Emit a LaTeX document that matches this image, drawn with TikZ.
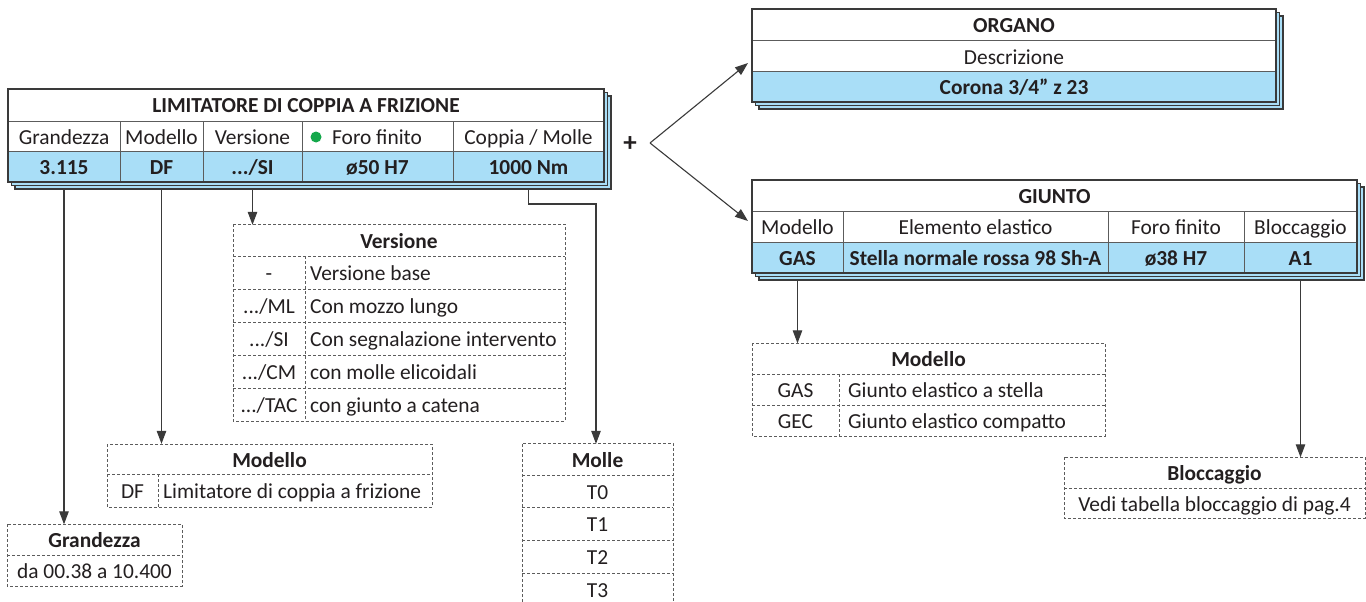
\documentclass[tikz,border=0pt]{standalone}
\usepackage{fontspec}
\setmainfont{Carlito}
\usetikzlibrary{arrows.meta,backgrounds}
\definecolor{cellblue}{HTML}{A9DEF7}
\definecolor{framec}{HTML}{3A3A3A}
\definecolor{gridc}{HTML}{5C5C5C}
\definecolor{txtc}{HTML}{231F20}
\definecolor{dotgreen}{HTML}{14A84B}
\begin{document}
\begin{tikzpicture}[x=1pt,y=-1pt,
  every node/.style={text=txtc, inner sep=0pt, text height=16pt, text depth=0pt,
     font=\fontsize{21.4}{25}\selectfont},
  bf/.style={font=\fontsize{21.4}{25}\selectfont\bfseries},
  cellbox/.style={minimum width=#1, minimum height=30pt},
  shadowbox/.style={draw=framec, fill=cellblue, line width=1.1pt},
  outerframe/.style={draw=framec, line width=1.3pt},
  innergrid/.style={draw=gridc, line width=1pt},
  dgrid/.style={draw=gridc, line width=1pt, dash pattern=on 3pt off 2pt},
  conn/.style={draw=framec, line width=1.1pt, -{Triangle[length=13pt,width=9.5pt]}},
]
\useasboundingbox (0,0) rectangle (1366,602);
\begin{pgfonlayer}{background}
\fill[white] (0,0) rectangle (1366,602);
\end{pgfonlayer}

% ================= LIMITATORE table =================
\foreach \d in {7,3.5} \draw[shadowbox] (8+\d,89+\d) rectangle (604+\d,182+\d);
\fill[white] (8,89) rectangle (604,151.5);
\fill[cellblue] (8,151.5) rectangle (604,182);
\draw[innergrid] (8,121) -- (604,121) (8,151.5) -- (604,151.5);
\foreach \x in {120,203,302,453} \draw[innergrid] (\x,121) -- (\x,182);
\draw[outerframe] (8,89) rectangle (604,182);

\node[bf, cellbox=596pt] (lh) at (306,105) {LIMITATORE DI COPPIA A FRIZIONE};
\node[cellbox=112pt] (ll1) at (64,136.25) {Grandezza};
\node[cellbox=83pt] (ll2) at (161.5,136.25) {Modello};
\node[cellbox=99pt] (ll3) at (252.5,136.25) {Versione};
\fill[dotgreen] (316,137) circle (5.5pt);
\node[anchor=west] (ll4) at (332,136.25) {Foro finito};
\node[cellbox=151pt] (ll5) at (528.5,136.25) {Coppia / Molle};
\node[bf, cellbox=112pt] (lv1) at (64,166.75) {3.115};
\node[bf, cellbox=83pt] (lv2) at (161.5,166.75) {DF};
\node[bf, cellbox=99pt] (lv3) at (252.5,166.75) {.../SI};
\node[bf, cellbox=151pt] (lv4) at (377.5,166.75) {ø50 H7};
\node[bf, cellbox=151pt] (lv5) at (528.5,166.75) {1000 Nm};

% plus and branch
\node[font=\fontsize{27}{29}\selectfont\bfseries] (plus) at (630,143) {+};
\coordinate (br) at (650,143);
\coordinate (orgtip) at (748,63);
\coordinate (giutip) at (748,221);

% ================= ORGANO table =================
\foreach \d in {7,3.5} \draw[shadowbox] (752+\d,9+\d) rectangle (1276+\d,102+\d);
\fill[white] (752,9) rectangle (1276,71.5);
\fill[cellblue] (752,71.5) rectangle (1276,102);
\draw[innergrid] (752,41) -- (1276,41) (752,71.5) -- (1276,71.5);
\draw[outerframe] (752,9) rectangle (1276,102);
\node[bf, cellbox=524pt] (oh) at (1014,25) {ORGANO};
\node[cellbox=524pt] (od) at (1014,56.25) {Descrizione};
\node[bf, cellbox=524pt] (ov) at (1014,86.75) {Corona 3/4” z 23};

% ================= GIUNTO table =================
\foreach \d in {7,3.5} \draw[shadowbox] (752+\d,180+\d) rectangle (1357+\d,273+\d);
\fill[white] (752,180) rectangle (1357,242);
\fill[cellblue] (752,242) rectangle (1357,273);
\draw[innergrid] (752,211) -- (1357,211) (752,242) -- (1357,242);
\foreach \x in {843,1108,1244} \draw[innergrid] (\x,211) -- (\x,273);
\draw[outerframe] (752,180) rectangle (1357,273);
\node[bf, cellbox=605pt] (gh) at (1054.5,195.5) {GIUNTO};
\node[cellbox=91pt] (gl1) at (797.5,226.5) {Modello};
\node[cellbox=265pt] (gl2) at (975.5,226.5) {Elemento elastico};
\node[cellbox=136pt] (gl3) at (1176,226.5) {Foro finito};
\node[cellbox=113pt] (gl4) at (1300.5,226.5) {Bloccaggio};
\node[bf, cellbox=91pt] (gv1) at (797.5,257.5) {GAS};
\node[bf, cellbox=265pt] (gv2) at (975.5,257.5) {Stella normale rossa 98 Sh-A};
\node[bf, cellbox=136pt] (gv3) at (1176,257.5) {ø38 H7};
\node[bf, cellbox=113pt] (gv4) at (1300.5,257.5) {A1};

% ================= Versione (dashed) =================
\draw[dgrid] (233,224) rectangle (565,421);
\foreach \y in {256,289,322,355,388} \draw[dgrid] (233,\y) -- (565,\y);
\draw[dgrid] (305,256) -- (305,421);
\node[bf, cellbox=332pt] (ver) at (399,240) {Versione};
\node (vk1) at (269,272.5) {-};
\node (vk2) at (269,305.5) {.../ML};
\node (vk3) at (269,338.5) {.../SI};
\node (vk4) at (269,371.5) {.../CM};
\node (vk5) at (269,404.5) {.../TAC};
\node[anchor=west] (vd1) at (310,272.5) {Versione base};
\node[anchor=west] (vd2) at (310,305.5) {Con mozzo lungo};
\node[anchor=west] (vd3) at (310,338.5) {Con segnalazione intervento};
\node[anchor=west] (vd4) at (310,371.5) {con molle elicoidali};
\node[anchor=west] (vd5) at (310,404.5) {con giunto a catena};

% ================= Modello DF (dashed) =================
\draw[dgrid] (107,444) rectangle (432,507);
\draw[dgrid] (107,474) -- (432,474);
\draw[dgrid] (158,474) -- (158,507);
\node[bf, cellbox=325pt] (mdf) at (269.5,459) {Modello};
\node (mk1) at (132.5,490.5) {DF};
\node[anchor=west] (md1) at (163,490.5) {Limitatore di coppia a frizione};

% ================= Grandezza (dashed) =================
\draw[dgrid] (7,524) rectangle (182,586);
\draw[dgrid] (7,555) -- (182,555);
\node[bf, cellbox=175pt] (gz) at (94.5,539.5) {Grandezza};
\node (gz1) at (94.5,570.5) {da 00.38 a 10.400};

% ================= Molle (dashed, cut at bottom) =================
\draw[dgrid] (522,602) -- (522,443) -- (673,443) -- (673,602);
\foreach \y in {475,507,540,573} \draw[dgrid] (522,\y) -- (673,\y);
\node[bf, cellbox=151pt] (mol) at (597.5,459) {Molle};
\node (m0) at (597.5,491) {T0};
\node (m1) at (597.5,523.5) {T1};
\node (m2) at (597.5,556.5) {T2};
\node (m3) at (597.5,589.5) {T3};
\coordinate (mbend) at (596,204);

% ================= Modello GIUNTO (dashed) =================
\draw[dgrid] (752,343) rectangle (1105,436);
\draw[dgrid] (752,374) -- (1105,374) (752,405) -- (1105,405);
\draw[dgrid] (839,374) -- (839,436);
\node[bf, cellbox=353pt] (gmod) at (928.5,358.5) {Modello};
\node (gk1) at (795.5,389.5) {GAS};
\node (gk2) at (795.5,420.5) {GEC};
\node[anchor=west] (gd1) at (848,389.5) {Giunto elastico a stella};
\node[anchor=west] (gd2) at (848,420.5) {Giunto elastico compatto};

% ================= Bloccaggio (dashed) =================
\draw[dgrid] (1064,457) rectangle (1365,518);
\draw[dgrid] (1064,488) -- (1365,488);
\node[bf, cellbox=301pt] (blk) at (1214.5,472.5) {Bloccaggio};
\node (blk1) at (1214.5,503) {Vedi tabella bloccaggio di pag.4};

% ================= connectors =================
\begin{pgfonlayer}{background}
\draw[conn] (lv1.south) -- (lv1.south |- gz.north);
\draw[conn] (lv2.south) -- (lv2.south |- mdf.north);
\draw[conn] (lv3.south) -- (lv3.south |- ver.north);
\draw[conn] (lv5.south) |- (mbend) -- (mbend |- mol.north);
\draw[conn] (gv1.south) -- (gv1.south |- gmod.north);
\draw[conn] (gv4.south) -- (gv4.south |- blk.north);
\draw[conn] (br) -- (orgtip);
\draw[conn] (br) -- (giutip);
\end{pgfonlayer}
\end{tikzpicture}
\end{document}
